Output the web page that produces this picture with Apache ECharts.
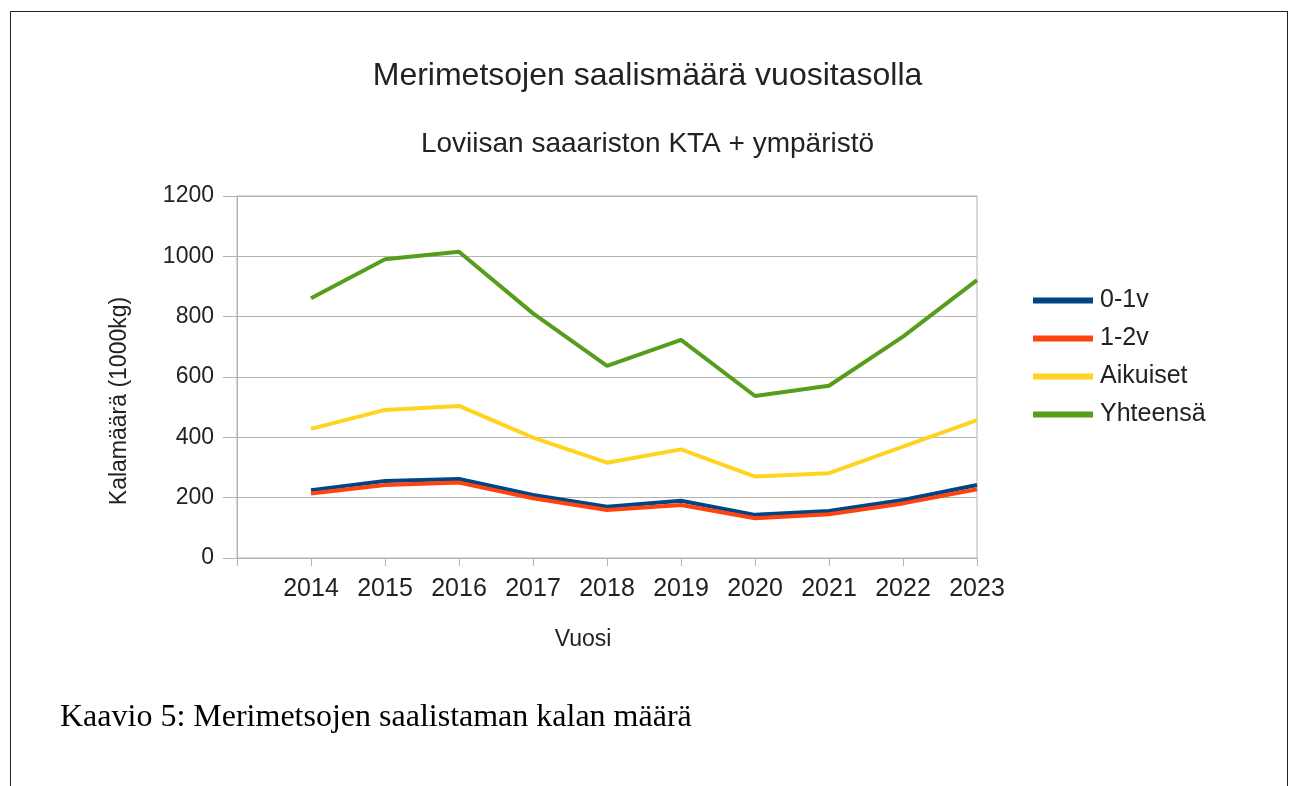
<!DOCTYPE html>
<html>
<head>
<meta charset="utf-8">
<script src="https://cdn.jsdelivr.net/npm/echarts@6/dist/echarts.min.js"></script>
<style>
  html, body { margin: 0; padding: 0; background: #fff; }
  #chart { width: 1295px; height: 786px; }
  .frame {
    position: absolute; left: 10px; top: 11px; width: 1276px; height: 800px;
    border: 1px solid #222; border-bottom: none;
  }
  .caption {
    position: absolute; left: 60px; top: 697px;
    font-family: "Liberation Serif", serif; font-size: 32px; color: #000;
  }
</style>
</head>
<body>
<div class="frame"></div>
<div id="chart"></div>
<div class="caption">Kaavio 5: Merimetsojen saalistaman kalan määrä</div>
<script>
const years = [2014, 2015, 2016, 2017, 2018, 2019, 2020, 2021, 2022, 2023]
const age01 = [225, 255, 262, 209, 170, 190, 143, 156, 192, 242]
const age12 = [214, 242, 250, 198, 159, 176, 132, 145, 181, 228]
const adults = [428, 491, 504, 399, 316, 360, 270, 281, 369, 457]
const total = [861, 990, 1015, 811, 637, 723, 537, 571, 734, 921]

const font = '"Liberation Sans", Arial, sans-serif'
const gray = '#b3b3b3'

const chart = echarts.init(document.getElementById('chart'))

const line = (name, values, color) => ({
  name,
  type: 'line',
  data: years.map((y, i) => [y, values[i]]),
  symbol: 'none',
  lineStyle: { width: 4, color },
  itemStyle: { color }
})

chart.setOption({
  animation: false,
  textStyle: { fontFamily: font, color: '#222' },
  title: [
    {
      text: 'Merimetsojen saalismäärä vuositasolla',
      left: 'center', top: 55,
      textStyle: { fontFamily: font, fontSize: 32, fontWeight: 'normal', color: '#222' }
    },
    {
      text: 'Loviisan saaariston KTA + ympäristö',
      left: 'center', top: 125,
      textStyle: { fontFamily: font, fontSize: 28, fontWeight: 'normal', color: '#222' }
    }
  ],
  grid: {
    left: 237, right: 318, top: 196, bottom: 228,
    show: true, borderColor: gray, borderWidth: 1
  },
  legend: {
    orient: 'vertical',
    left: 1033, top: 288,
    padding: 0,
    icon: 'rect',
    itemWidth: 60, itemHeight: 6,
    itemGap: 13,
    textStyle: { fontFamily: font, fontSize: 25, color: '#222', padding: [0, 0, 0, 2] },
    data: ['0-1v', '1-2v', 'Aikuiset', 'Yhteensä']
  },
  xAxis: {
    type: 'value',
    min: 2013, max: 2023, interval: 1,
    name: 'Vuosi',
    nameLocation: 'middle',
    nameGap: 70,
    nameTextStyle: { fontFamily: font, fontSize: 23, color: '#222', padding: [0, 48, 0, 0] },
    axisLine: { show: true, lineStyle: { color: gray } },
    axisTick: { show: true, length: 8, lineStyle: { color: gray } },
    axisLabel: {
      fontFamily: font, fontSize: 25, color: '#222', margin: 19,
      formatter: v => (v === 2013 ? '' : String(v))
    },
    splitLine: { show: false }
  },
  yAxis: {
    type: 'value',
    min: 0, max: 1200, interval: 200,
    name: 'Kalamäärä (1000kg)',
    nameLocation: 'middle',
    nameGap: 106,
    nameTextStyle: { fontFamily: font, fontSize: 23, color: '#222', padding: [0, 48, 0, 0] },
    axisLine: { show: true, lineStyle: { color: gray } },
    axisTick: { show: true, length: 14, lineStyle: { color: gray } },
    axisLabel: {
      fontFamily: font, fontSize: 23, color: '#222', margin: 23,
      formatter: v => String(v)
    },
    splitLine: { show: true, lineStyle: { color: gray, width: 1 } }
  },
  series: [
    line('0-1v', age01, '#004586'),
    line('1-2v', age12, '#ff420e'),
    line('Aikuiset', adults, '#ffd320'),
    line('Yhteensä', total, '#579d1c')
  ]
})
</script>
</body>
</html>
